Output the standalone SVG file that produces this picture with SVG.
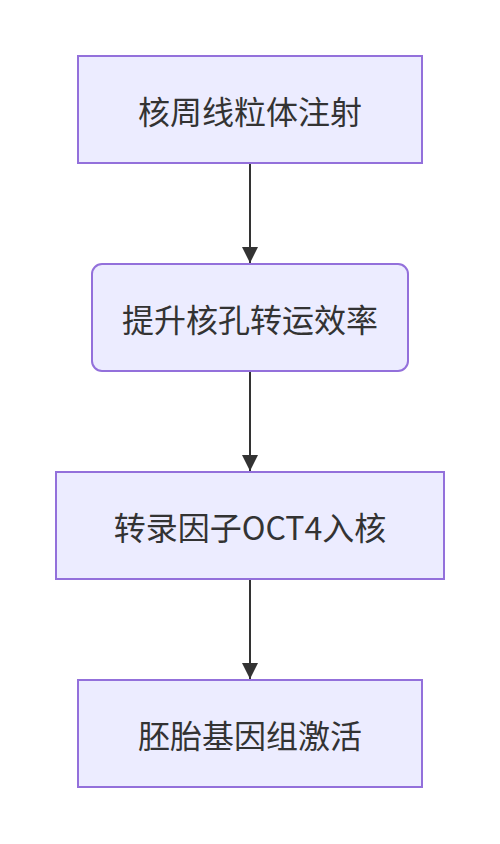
<svg xmlns="http://www.w3.org/2000/svg" width="500" height="844" viewBox="0 0 500 844">
<style>
.node rect{fill:#ECECFF;stroke:#9370DB;stroke-width:2}
.node text{fill:#333333;font-family:"Noto Sans CJK SC","Liberation Sans",sans-serif;font-size:32px;text-anchor:middle;dominant-baseline:central}
.edge{stroke:#333333;stroke-width:2;fill:none}
</style>
<defs>
<marker id="arr" markerWidth="16" markerHeight="16" viewBox="0 0 16 16" refX="16" refY="8" orient="auto" markerUnits="userSpaceOnUse">
<path d="M0,0 L16,8 L0,16 z" fill="#333333"/>
</marker>
</defs>
<rect width="500" height="844" fill="#ffffff"/>
<g id="connectors">
<path class="edge" d="M250,164 L250,263" marker-end="url(#arr)"/>
<path class="edge" d="M250,372 L250,471" marker-end="url(#arr)"/>
<path class="edge" d="M250,580 L250,679" marker-end="url(#arr)"/>
</g>
<g id="n1" class="node"><rect x="78" y="56" width="344" height="107"/><text x="250" y="110">核周线粒体注射</text></g>
<g id="n2" class="node"><rect x="92" y="264" width="316" height="107" rx="10" ry="10"/><text x="250" y="318">提升核孔转运效率</text></g>
<g id="n3" class="node"><rect x="56" y="472" width="388" height="107"/><text x="250" y="526">转录因子OCT4入核</text></g>
<g id="n4" class="node"><rect x="78" y="680" width="344" height="107"/><text x="250" y="734">胚胎基因组激活</text></g>
</svg>
